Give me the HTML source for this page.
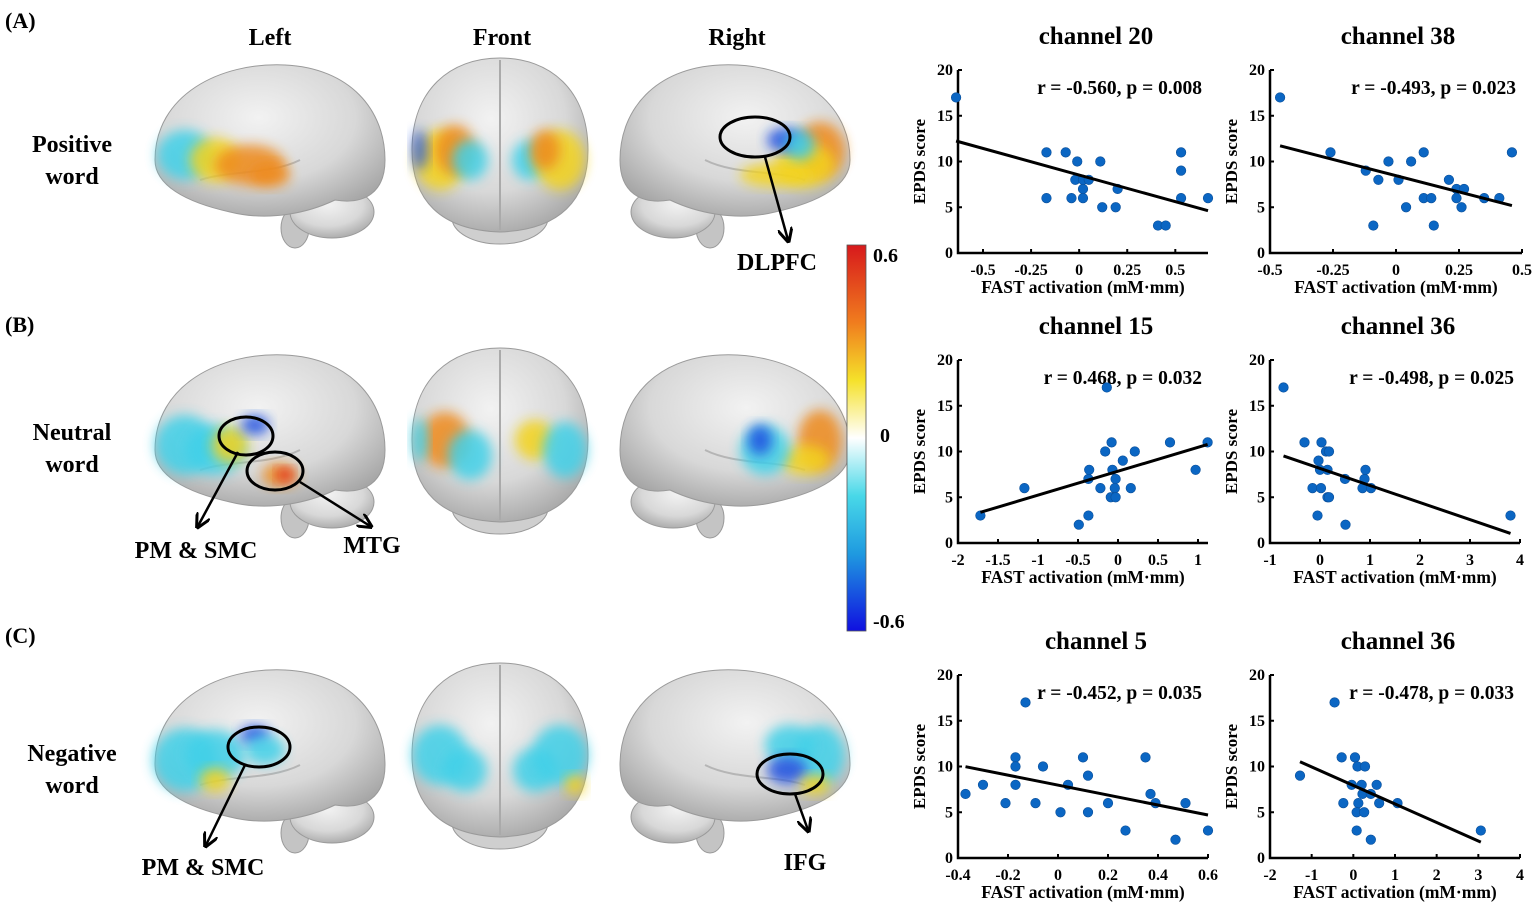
<!DOCTYPE html>
<html><head><meta charset="utf-8">
<style>
html,body{margin:0;padding:0;background:#fff;}
svg{display:block;font-family:"Liberation Serif",serif;font-weight:bold;}
</style></head>
<body>
<svg id="fig" width="1535" height="906" viewBox="0 0 1535 906" xmlns="http://www.w3.org/2000/svg">
<defs>
  <radialGradient id="brainG" cx="45%" cy="35%" r="70%">
    <stop offset="0" stop-color="#f2f2f2"/><stop offset="0.6" stop-color="#d8d8d8"/><stop offset="1" stop-color="#a5a5a5"/>
  </radialGradient>
  <filter id="blur" x="-30%" y="-30%" width="160%" height="160%"><feGaussianBlur stdDeviation="6"/></filter>
  <linearGradient id="cbar" x1="0" y1="0" x2="0" y2="1">
    <stop offset="0" stop-color="#d7191c"/><stop offset="0.2" stop-color="#f07c1e"/><stop offset="0.35" stop-color="#f5e12a"/>
    <stop offset="0.5" stop-color="#ffffff"/><stop offset="0.65" stop-color="#48d8e8"/><stop offset="0.8" stop-color="#1f9ae0"/><stop offset="1" stop-color="#1010e0"/>
  </linearGradient>
  <marker id="arr" viewBox="0 0 10 10" refX="8" refY="5" markerWidth="6" markerHeight="6" orient="auto"><path d="M0,0 L10,5 L0,10" fill="none" stroke="#000" stroke-width="2"/></marker>
</defs>
<g id="brains"></g>
<g id="charts"></g>
</svg>
<script>
// ---- chart data ----
const ch20_x=[-0.64,-0.17,-0.17,-0.07,-0.01,-0.02,-0.04,0.02,0.05,0.02,0.02,0.11,0.12,0.19,0.2,0.41,0.45,0.53,0.53,0.53,0.67];
const ch20_y=[17,11,6,11,10,8,6,8,8,7,6,10,5,5,7,3,3,11,9,6,6];
const ch38_x=[-0.46,-0.26,-0.12,-0.07,-0.09,-0.03,0.01,0.04,0.06,0.11,0.11,0.14,0.15,0.21,0.24,0.24,0.26,0.27,0.35,0.41,0.46];
const ch38_y=[17,11,9,8,3,10,8,5,10,11,6,6,3,8,7,6,5,7,6,6,11];
const ch15_x=[-1.72,-1.17,-0.49,-0.37,-0.37,-0.36,-0.22,-0.16,-0.14,-0.08,-0.09,-0.07,-0.04,-0.03,-0.03,0.06,0.16,0.21,0.65,0.97,1.12];
const ch15_y=[3,6,2,3,7,8,6,10,17,11,5,8,6,5,7,9,6,10,11,8,11];
const ch36b_x=[-0.73,-0.31,-0.15,-0.05,-0.03,0,0.02,0.03,0.12,0.18,0.15,0.15,0.18,0.5,0.51,0.85,0.89,0.91,1.02,3.81];
const ch36b_y=[17,11,6,3,9,8,6,11,10,10,8,5,5,7,2,6,7,8,6,3];
const ch5_x=[-0.37,-0.30,-0.21,-0.17,-0.17,-0.17,-0.13,-0.09,-0.06,0.01,0.04,0.10,0.12,0.12,0.20,0.27,0.35,0.37,0.39,0.47,0.51,0.60];
const ch5_y=[7,8,6,11,10,8,17,6,10,5,8,11,9,5,6,3,11,7,6,2,6,3];
const ch36c_x=[-1.28,-0.45,-0.28,-0.24,-0.04,0.04,0.1,0.28,0.2,0.22,0.12,0.08,0.26,0.08,0.42,0.42,0.56,0.62,1.06,3.06];
const ch36c_y=[9,17,11,6,8,11,10,10,8,7,6,5,5,3,7,2,8,6,6,3];
const titles=["channel 20","channel 38","channel 15","channel 36","channel 5","channel 36"];
const stats=["r = -0.560, p = 0.008","r = -0.493, p = 0.023","r = 0.468, p = 0.032","r = -0.498, p = 0.025","r = -0.452, p = 0.035","r = -0.478, p = 0.033"];
const xTicks1=[-0.5,-0.25,0,0.25,0.5], xTickLab1=["-0.5","-0.25","0","0.25","0.5"];
const xTicks2=[-0.5,-0.25,0,0.25,0.5], xTickLab2=["-0.5","-0.25","0","0.25","0.5"];
const xTicks3=[-2,-1.5,-1,-0.5,0,0.5,1], xTickLab3=["-2","-1.5","-1","-0.5","0","0.5","1"];
const xTicks4=[-1,0,1,2,3,4], xTickLab4=["-1","0","1","2","3","4"];
const xTicks5=[-0.4,-0.2,0,0.2,0.4,0.6], xTickLab5=["-0.4","-0.2","0","0.2","0.4","0.6"];
const xTicks6=[-2,-1,0,1,2,3,4], xTickLab6=["-2","-1","0","1","2","3","4"];
const yTicks=[0,5,10,15,20], yTickLab=["0","5","10","15","20"];

const NS="http://www.w3.org/2000/svg";
function mk(tag,attrs,parent){const e=document.createElementNS(NS,tag);for(const k in attrs)e.setAttribute(k,attrs[k]);parent.appendChild(e);return e;}

const panels=[
 {xs:ch20_x,ys:ch20_y,xt:xTicks1,xl:xTickLab1,x0:958,x1:1208,d0:-0.63,d1:0.67,top:70,bot:253,title:0,id:"ch20",tx:1096},
 {xs:ch38_x,ys:ch38_y,xt:xTicks2,xl:xTickLab2,x0:1270,x1:1522,d0:-0.5,d1:0.5,top:70,bot:253,title:1,id:"ch38",tx:1398},
 {xs:ch15_x,ys:ch15_y,xt:xTicks3,xl:xTickLab3,x0:958,x1:1208,d0:-2,d1:1.125,top:360,bot:543,title:2,id:"ch15",tx:1096},
 {xs:ch36b_x,ys:ch36b_y,xt:xTicks4,xl:xTickLab4,x0:1270,x1:1520,d0:-1,d1:4,top:360,bot:543,title:3,id:"ch36-neutral",tx:1398},
 {xs:ch5_x,ys:ch5_y,xt:xTicks5,xl:xTickLab5,x0:958,x1:1208,d0:-0.4,d1:0.6,top:675,bot:858,title:4,id:"ch5",tx:1096},
 {xs:ch36c_x,ys:ch36c_y,xt:xTicks6,xl:xTickLab6,x0:1270,x1:1520,d0:-2,d1:4,top:675,bot:858,title:5,id:"ch36-negative",tx:1398}
];
const charts=document.getElementById('charts');
panels.forEach(p=>{
  const g=mk('g',{},charts);
  
  
  const X=v=>p.x0+(v-p.d0)/(p.d1-p.d0)*(p.x1-p.x0);
  const Y=v=>p.bot-(v/20)*(p.bot-p.top);
  const cx=(p.x0+p.x1)/2;
  const t=mk('text',{x:p.tx,y:p.top-26,'text-anchor':'middle','font-size':25},g);t.textContent=titles[p.title];
  
  
  const s=mk('text',{x:p.x1-6,y:p.top+24,'text-anchor':'end','font-size':19.5},g);s.textContent=stats[p.title];
  
  
  const ax=mk('path',{d:`M${p.x0},${p.top} V${p.bot} H${p.x1}`,fill:'none',stroke:'#000','stroke-width':2.5},g);
  
  
  yTicks.forEach((v,i)=>{
    mk('line',{x1:p.x0,x2:p.x0+4,y1:Y(v),y2:Y(v),stroke:'#000','stroke-width':2},g);
    const l=mk('text',{x:p.x0-5,y:Y(v)+5,'text-anchor':'end','font-size':16},g);l.textContent=yTickLab[i];
    
    
  });
  p.xt.forEach((v,i)=>{
    mk('line',{x1:X(v),x2:X(v),y1:p.bot,y2:p.bot-4,stroke:'#000','stroke-width':2},g);
    const l=mk('text',{x:X(v),y:p.bot+22,'text-anchor':'middle','font-size':16},g);l.textContent=p.xl[i];
    
    
  });
  const xl=mk('text',{x:cx,y:p.bot+40,'text-anchor':'middle','font-size':17.5},g);xl.textContent="FAST activation (mM·mm)";
  
  
  const yy=(p.top+p.bot)/2;
  const yl=mk('text',{x:p.x0-33,y:yy,'text-anchor':'middle','font-size':17,transform:`rotate(-90 ${p.x0-33} ${yy})`},g);yl.textContent="EPDS score";
  
  
  const n=p.xs.length;let mx=0,my=0;for(let i=0;i<n;i++){mx+=p.xs[i];my+=p.ys[i];}mx/=n;my/=n;
  let sxy=0,sxx=0;for(let i=0;i<n;i++){sxy+=(p.xs[i]-mx)*(p.ys[i]-my);sxx+=(p.xs[i]-mx)**2;}
  const b=sxy/sxx,a=my-b*mx;const lo=Math.min(...p.xs),hi=Math.max(...p.xs);
  for(let i=0;i<n;i++){
    const c=mk('circle',{cx:X(p.xs[i]),cy:Y(p.ys[i]),r:4.8,fill:'#0b66c3',stroke:'#0a4f9a','stroke-width':0.6},g);
    
    
  }
  const rl=mk('line',{x1:X(lo),y1:Y(a+b*lo),x2:X(hi),y2:Y(a+b*hi),stroke:'#000','stroke-width':3},g);
  
  
});

// ---- brains ----
const B=document.getElementById('brains');
function txt(x,y,s,size,name,anchor){const t=mk('text',{x:x,y:y,'font-size':size,'text-anchor':anchor||'middle'},B);t.textContent=s;return t;}
txt(5,28,"(A)",22,"panel-label-a","start");
txt(5,332,"(B)",22,"panel-label-b","start");
txt(5,643,"(C)",22,"panel-label-c","start");
txt(270,45,"Left",24,"view-label-left");
txt(502,45,"Front",24,"view-label-front");
txt(737,45,"Right",24,"view-label-right");
txt(72,152,"Positive",24,"row-label-positive");txt(72,184,"word",24,"row-label-positive-2");
txt(72,440,"Neutral",24,"row-label-neutral");txt(72,472,"word",24,"row-label-neutral-2");
txt(72,761,"Negative",24,"row-label-negative");txt(72,793,"word",24,"row-label-negative-2");

function blob(g,cx,cy,rx,ry,col,op){mk('ellipse',{cx,cy,rx,ry,fill:col,opacity:op||0.85,filter:'url(#blur)'},g);}
function sideBrain(cx,cy,flip,name,blobs){
  const g=mk('g',{transform:`translate(${cx},${cy}) scale(${flip?-1:1},1)`},B);
  
  
  mk('ellipse',{cx:25,cy:78,rx:14,ry:20,fill:'#c4c4c4',stroke:'#999'},g);
  mk('ellipse',{cx:62,cy:62,rx:42,ry:26,fill:'url(#brainG)',stroke:'#999','stroke-width':1},g);
  mk('path',{d:'M-115,10 C-115,-55 -50,-88 15,-85 C80,-82 115,-40 115,10 C115,42 95,55 65,50 C40,62 0,72 -40,62 C-85,52 -115,35 -115,10Z',fill:'url(#brainG)',stroke:'#9a9a9a','stroke-width':1},g);
  mk('path',{d:'M-70,30 C-40,20 0,25 30,10',fill:'none',stroke:'#b5b5b5','stroke-width':2},g);
  blobs.forEach(b=>blob(g,b[0],b[1],b[2],b[3],b[4],b[5]));
}
function frontBrain(cy,name,blobs){
  const g=mk('g',{transform:`translate(500,${cy})`},B);
  
  
  mk('ellipse',{cx:0,cy:68,rx:48,ry:26,fill:'#cfcfcf',stroke:'#999'},g);
  mk('path',{d:'M-88,0 C-88,-60 -50,-92 0,-92 C50,-92 88,-60 88,0 C88,50 60,80 0,82 C-60,80 -88,50 -88,0Z',fill:'url(#brainG)',stroke:'#9a9a9a'},g);
  mk('line',{x1:0,y1:-90,x2:0,y2:80,stroke:'#aaa','stroke-width':2},g);
  blobs.forEach(b=>blob(g,b[0],b[1],b[2],b[3],b[4],b[5]));
}
const Y_='#f3d31a',O_='#ee8a1a',C_='#40d0e8',Bl='#1a4fe0';
sideBrain(270,150,false,'brain-left-positive',[[-85,5,28,25,C_],[-55,10,25,22,Y_],[-20,15,35,20,O_],[0,25,20,12,O_]]);
frontBrain(150,'brain-front-positive',[[-60,10,25,30,Y_],[-45,0,20,25,O_],[-30,10,18,20,C_],[30,10,18,20,C_],[60,10,25,30,Y_],[45,0,15,20,O_],[-80,0,8,20,Bl,0.7]]);
sideBrain(735,150,true,'brain-right-positive',[[-85,0,25,28,O_],[-70,15,30,22,Y_],[-40,25,35,12,Y_],[-50,-10,18,12,Bl],[-65,-5,15,15,C_]]);
sideBrain(270,440,false,'brain-left-neutral',[[-85,5,30,30,C_],[-55,10,30,25,C_],[-40,5,18,18,Y_],[-15,-15,14,10,Bl],[10,35,18,12,O_],[15,35,8,7,'#e02020']]);
frontBrain(440,'brain-front-neutral',[[-55,0,25,28,O_],[-30,15,22,25,C_],[35,0,20,20,Y_],[65,10,22,28,C_],[-80,0,8,22,C_]]);
sideBrain(735,440,true,'brain-right-neutral',[[-85,0,22,30,O_],[-70,20,25,15,Y_],[-30,10,25,25,C_],[-25,0,12,15,Bl]]);
sideBrain(270,755,false,'brain-left-negative',[[-85,5,32,32,C_],[-55,0,30,25,C_],[-55,25,15,12,Y_],[-15,-20,15,10,Bl],[-5,-5,20,15,C_]]);
frontBrain(755,'brain-front-negative',[[-60,0,28,30,C_],[-35,15,22,22,C_],[35,15,22,22,C_],[60,0,28,30,C_],[75,30,10,10,Y_]]);
sideBrain(735,755,true,'brain-right-negative',[[-85,0,25,30,C_],[-55,-10,25,20,C_],[-52,15,20,14,Bl],[-80,30,15,10,Y_]]);

function ann(cx,cy,rx,ry,x1,y1,x2,y2,name){
  const e=mk('ellipse',{cx,cy,rx,ry,fill:'none',stroke:'#000','stroke-width':3},B);
  
  
  const l=mk('line',{x1,y1,x2,y2,stroke:'#000','stroke-width':2.5,'marker-end':'url(#arr)'},B);
  
  
}
ann(755,137,35,20,765,157,788,240,'dlpfc');
txt(777,270,"DLPFC",24,"label-dlpfc");
ann(246,436,27,19,238,452,198,526,'pm-smc-neutral');
ann(275,471,28,19,300,482,370,526,'mtg');
txt(196,558,"PM & SMC",24,"label-pm-smc-neutral");
txt(372,553,"MTG",24,"label-mtg");
ann(259,747,31,20,245,765,206,845,'pm-smc-negative');
txt(203,875,"PM & SMC",24,"label-pm-smc-negative");
ann(790,774,33,20,795,794,808,830,'ifg');
txt(805,870,"IFG",24,"label-ifg");

const cb=mk('rect',{x:847,y:245,width:19,height:386,fill:'url(#cbar)',stroke:'#555','stroke-width':0.8},B);


txt(873,262,"0.6",20,"colorbar-max","start");
txt(880,442,"0",20,"colorbar-zero","start");
txt(873,628,"-0.6",20,"colorbar-min","start");
</script>
</body></html>
